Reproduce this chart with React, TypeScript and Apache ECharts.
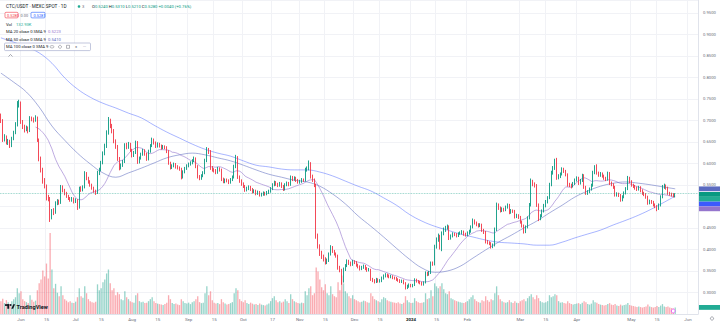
import React, { useEffect, useRef } from 'react';
import * as echarts from 'echarts';

// ---- axis span -------------------------------------------------------------
const AXIS_START_UTC = Date.UTC(2023, 4, 21); // first session on the time axis
const AXIS_DAYS = 383; // sessions plus right-hand margin of the time scale
const FIRST_OPEN = 0.712;

// ---- daily candles (open = previous close) ---------------------------------
const closes = [
  0.700, 0.656, 0.662, 0.648, 0.652, 0.641, 0.658, 0.672, 0.690, 0.738,
  0.741, 0.697, 0.685, 0.679, 0.683, 0.676, 0.705, 0.703, 0.700, 0.707,
  0.655, 0.612, 0.585, 0.560, 0.548, 0.520, 0.519, 0.474, 0.490, 0.486,
  0.508, 0.512, 0.509, 0.545, 0.538, 0.530, 0.524, 0.519, 0.515, 0.518,
  0.511, 0.515, 0.497, 0.542, 0.538, 0.545, 0.577, 0.566, 0.558, 0.550,
  0.543, 0.536, 0.531, 0.578, 0.585, 0.601, 0.623, 0.640, 0.671, 0.699,
  0.688, 0.676, 0.652, 0.640, 0.612, 0.590, 0.596, 0.604, 0.642, 0.638,
  0.645, 0.631, 0.618, 0.625, 0.649, 0.604, 0.612, 0.621, 0.630, 0.622,
  0.610, 0.628, 0.641, 0.655, 0.648, 0.640, 0.645, 0.641, 0.636, 0.639,
  0.637, 0.628, 0.601, 0.590, 0.594, 0.598, 0.592, 0.590, 0.587, 0.568,
  0.580, 0.588, 0.594, 0.598, 0.601, 0.606, 0.611, 0.593, 0.569, 0.566,
  0.571, 0.578, 0.606, 0.632, 0.628, 0.590, 0.585, 0.583, 0.579, 0.588,
  0.585, 0.563, 0.558, 0.561, 0.560, 0.556, 0.562, 0.568, 0.592, 0.614,
  0.569, 0.560, 0.552, 0.547, 0.538, 0.542, 0.545, 0.540, 0.534, 0.536,
  0.530, 0.533, 0.527, 0.528, 0.531, 0.529, 0.532, 0.535, 0.541, 0.550,
  0.556, 0.552, 0.549, 0.553, 0.547, 0.540, 0.550, 0.554, 0.551, 0.568,
  0.563, 0.566, 0.561, 0.557, 0.558, 0.562, 0.561, 0.585, 0.588, 0.600,
  0.570, 0.562, 0.550, 0.432, 0.408, 0.392, 0.383, 0.378, 0.370, 0.374,
  0.389, 0.405, 0.396, 0.390, 0.385, 0.358, 0.352, 0.326, 0.354, 0.362,
  0.372, 0.368, 0.365, 0.372, 0.370, 0.364, 0.360, 0.355, 0.358, 0.361,
  0.356, 0.352, 0.353, 0.331, 0.328, 0.325, 0.330, 0.326, 0.327, 0.333,
  0.338, 0.341, 0.339, 0.336, 0.337, 0.334, 0.333, 0.330, 0.328, 0.325,
  0.327, 0.322, 0.311, 0.314, 0.318, 0.315, 0.317, 0.329, 0.326, 0.324,
  0.322, 0.319, 0.323, 0.345, 0.342, 0.346, 0.368, 0.366, 0.406, 0.422,
  0.431, 0.405, 0.438, 0.446, 0.450, 0.453, 0.427, 0.431, 0.436, 0.435,
  0.432, 0.437, 0.438, 0.441, 0.436, 0.434, 0.438, 0.442, 0.452, 0.467,
  0.462, 0.458, 0.455, 0.457, 0.445, 0.440, 0.418, 0.416, 0.414, 0.406,
  0.410, 0.446, 0.503, 0.497, 0.490, 0.494, 0.492, 0.498, 0.503, 0.486,
  0.490, 0.489, 0.476, 0.479, 0.475, 0.464, 0.455, 0.441, 0.452, 0.473,
  0.503, 0.557, 0.552, 0.549, 0.504, 0.472, 0.478, 0.489, 0.502, 0.511,
  0.520, 0.550, 0.578, 0.589, 0.605, 0.567, 0.570, 0.575, 0.586, 0.582,
  0.574, 0.551, 0.549, 0.547, 0.553, 0.561, 0.566, 0.554, 0.560, 0.572,
  0.545, 0.531, 0.534, 0.540, 0.549, 0.578, 0.590, 0.578, 0.573, 0.576,
  0.571, 0.566, 0.563, 0.577, 0.554, 0.551, 0.545, 0.527, 0.529, 0.526,
  0.515, 0.522, 0.531, 0.541, 0.566, 0.558, 0.550, 0.547, 0.543, 0.540,
  0.544, 0.537, 0.531, 0.528, 0.522, 0.508, 0.512, 0.510, 0.504, 0.500,
  0.495, 0.503, 0.522, 0.545, 0.548, 0.543, 0.531, 0.529, 0.527, 0.524, 0.528,
];

const highs = [
  0.716, 0.703, 0.668, 0.665, 0.657, 0.655, 0.662, 0.676, 0.696, 0.745,
  0.748, 0.744, 0.701, 0.690, 0.688, 0.686, 0.710, 0.709, 0.707, 0.712,
  0.709, 0.658, 0.616, 0.590, 0.566, 0.551, 0.527, 0.522, 0.494, 0.496,
  0.512, 0.517, 0.516, 0.550, 0.549, 0.541, 0.534, 0.527, 0.522, 0.522,
  0.521, 0.519, 0.517, 0.546, 0.547, 0.549, 0.582, 0.580, 0.569, 0.561,
  0.553, 0.546, 0.539, 0.583, 0.590, 0.606, 0.628, 0.646, 0.677, 0.708,
  0.704, 0.692, 0.680, 0.656, 0.643, 0.615, 0.600, 0.608, 0.647, 0.648,
  0.650, 0.648, 0.634, 0.629, 0.653, 0.652, 0.616, 0.625, 0.634, 0.633,
  0.625, 0.632, 0.645, 0.660, 0.658, 0.651, 0.649, 0.648, 0.644, 0.643,
  0.642, 0.640, 0.631, 0.604, 0.598, 0.602, 0.601, 0.596, 0.593, 0.590,
  0.584, 0.592, 0.598, 0.602, 0.605, 0.610, 0.616, 0.614, 0.596, 0.573,
  0.575, 0.582, 0.611, 0.638, 0.636, 0.631, 0.594, 0.589, 0.587, 0.592,
  0.591, 0.588, 0.567, 0.565, 0.565, 0.563, 0.566, 0.572, 0.597, 0.620,
  0.617, 0.572, 0.563, 0.556, 0.550, 0.546, 0.549, 0.548, 0.543, 0.540,
  0.539, 0.537, 0.536, 0.532, 0.535, 0.534, 0.536, 0.539, 0.545, 0.554,
  0.560, 0.559, 0.555, 0.557, 0.556, 0.550, 0.554, 0.558, 0.557, 0.572,
  0.571, 0.570, 0.569, 0.564, 0.562, 0.566, 0.565, 0.590, 0.593, 0.607,
  0.603, 0.574, 0.565, 0.553, 0.437, 0.412, 0.397, 0.388, 0.382, 0.379,
  0.393, 0.410, 0.408, 0.399, 0.393, 0.388, 0.362, 0.355, 0.358, 0.366,
  0.377, 0.376, 0.372, 0.376, 0.375, 0.373, 0.367, 0.363, 0.362, 0.365,
  0.364, 0.359, 0.357, 0.355, 0.334, 0.331, 0.334, 0.333, 0.331, 0.337,
  0.342, 0.345, 0.344, 0.342, 0.341, 0.340, 0.337, 0.336, 0.333, 0.331,
  0.330, 0.330, 0.324, 0.318, 0.321, 0.320, 0.320, 0.333, 0.332, 0.329,
  0.327, 0.325, 0.326, 0.349, 0.348, 0.350, 0.372, 0.372, 0.411, 0.428,
  0.437, 0.434, 0.442, 0.451, 0.455, 0.458, 0.456, 0.435, 0.440, 0.439,
  0.438, 0.440, 0.442, 0.445, 0.444, 0.439, 0.442, 0.446, 0.456, 0.472,
  0.470, 0.465, 0.461, 0.461, 0.460, 0.448, 0.443, 0.422, 0.419, 0.417,
  0.414, 0.451, 0.509, 0.507, 0.500, 0.498, 0.497, 0.502, 0.507, 0.506,
  0.494, 0.493, 0.492, 0.483, 0.482, 0.478, 0.467, 0.458, 0.456, 0.477,
  0.508, 0.565, 0.562, 0.556, 0.552, 0.507, 0.482, 0.493, 0.506, 0.515,
  0.524, 0.555, 0.583, 0.594, 0.611, 0.613, 0.575, 0.579, 0.591, 0.590,
  0.585, 0.577, 0.555, 0.553, 0.557, 0.565, 0.570, 0.569, 0.564, 0.576,
  0.575, 0.548, 0.538, 0.544, 0.553, 0.583, 0.596, 0.598, 0.581, 0.580,
  0.579, 0.574, 0.569, 0.581, 0.580, 0.558, 0.554, 0.548, 0.533, 0.532,
  0.529, 0.526, 0.535, 0.545, 0.571, 0.569, 0.561, 0.553, 0.550, 0.546,
  0.548, 0.547, 0.540, 0.534, 0.531, 0.525, 0.516, 0.515, 0.513, 0.507,
  0.503, 0.507, 0.526, 0.550, 0.553, 0.551, 0.546, 0.534, 0.532, 0.531, 0.531,
];

const lows = [
  0.694, 0.650, 0.651, 0.644, 0.643, 0.636, 0.638, 0.654, 0.668, 0.686,
  0.730, 0.692, 0.680, 0.672, 0.675, 0.670, 0.673, 0.698, 0.695, 0.697,
  0.650, 0.605, 0.579, 0.553, 0.542, 0.514, 0.512, 0.464, 0.470, 0.480,
  0.483, 0.503, 0.504, 0.506, 0.533, 0.526, 0.520, 0.515, 0.511, 0.511,
  0.507, 0.508, 0.492, 0.495, 0.534, 0.535, 0.542, 0.561, 0.553, 0.546,
  0.539, 0.532, 0.527, 0.529, 0.573, 0.582, 0.598, 0.619, 0.636, 0.667,
  0.682, 0.670, 0.647, 0.634, 0.606, 0.584, 0.586, 0.592, 0.601, 0.633,
  0.634, 0.627, 0.614, 0.615, 0.622, 0.599, 0.600, 0.609, 0.618, 0.618,
  0.606, 0.607, 0.625, 0.638, 0.644, 0.636, 0.637, 0.637, 0.632, 0.633,
  0.633, 0.624, 0.597, 0.586, 0.587, 0.591, 0.588, 0.586, 0.583, 0.563,
  0.565, 0.577, 0.585, 0.591, 0.595, 0.598, 0.603, 0.589, 0.565, 0.561,
  0.562, 0.568, 0.575, 0.603, 0.622, 0.585, 0.581, 0.579, 0.575, 0.576,
  0.581, 0.559, 0.554, 0.554, 0.556, 0.552, 0.553, 0.559, 0.565, 0.589,
  0.564, 0.555, 0.548, 0.543, 0.534, 0.535, 0.538, 0.536, 0.530, 0.531,
  0.526, 0.527, 0.523, 0.523, 0.525, 0.525, 0.526, 0.529, 0.532, 0.538,
  0.547, 0.548, 0.545, 0.546, 0.543, 0.536, 0.537, 0.547, 0.547, 0.548,
  0.559, 0.560, 0.557, 0.553, 0.553, 0.555, 0.557, 0.558, 0.581, 0.584,
  0.565, 0.557, 0.545, 0.425, 0.402, 0.385, 0.378, 0.372, 0.365, 0.366,
  0.371, 0.386, 0.392, 0.386, 0.381, 0.353, 0.347, 0.318, 0.323, 0.350,
  0.359, 0.364, 0.361, 0.362, 0.366, 0.360, 0.356, 0.351, 0.352, 0.355,
  0.352, 0.348, 0.349, 0.327, 0.324, 0.321, 0.322, 0.323, 0.323, 0.324,
  0.330, 0.335, 0.335, 0.333, 0.333, 0.331, 0.330, 0.327, 0.325, 0.322,
  0.322, 0.319, 0.307, 0.308, 0.311, 0.312, 0.312, 0.315, 0.323, 0.321,
  0.319, 0.316, 0.316, 0.321, 0.338, 0.339, 0.343, 0.362, 0.363, 0.402,
  0.418, 0.400, 0.396, 0.433, 0.441, 0.446, 0.422, 0.423, 0.428, 0.431,
  0.428, 0.429, 0.434, 0.435, 0.432, 0.430, 0.431, 0.435, 0.439, 0.449,
  0.458, 0.454, 0.451, 0.452, 0.441, 0.436, 0.414, 0.412, 0.410, 0.402,
  0.403, 0.407, 0.443, 0.492, 0.486, 0.487, 0.488, 0.489, 0.495, 0.482,
  0.483, 0.485, 0.472, 0.473, 0.471, 0.460, 0.451, 0.437, 0.438, 0.449,
  0.470, 0.500, 0.547, 0.544, 0.499, 0.466, 0.468, 0.475, 0.486, 0.498,
  0.507, 0.517, 0.547, 0.574, 0.585, 0.562, 0.563, 0.566, 0.572, 0.578,
  0.570, 0.546, 0.545, 0.542, 0.544, 0.550, 0.558, 0.550, 0.551, 0.557,
  0.541, 0.527, 0.527, 0.531, 0.537, 0.546, 0.575, 0.574, 0.569, 0.569,
  0.567, 0.562, 0.559, 0.560, 0.550, 0.547, 0.541, 0.523, 0.523, 0.522,
  0.511, 0.512, 0.519, 0.528, 0.538, 0.554, 0.546, 0.543, 0.539, 0.536,
  0.537, 0.533, 0.527, 0.524, 0.518, 0.504, 0.505, 0.506, 0.500, 0.496,
  0.489, 0.492, 0.500, 0.519, 0.541, 0.539, 0.527, 0.525, 0.523, 0.521, 0.521,
];

// daily volume, thousands of CTC
const volumes = [
  260, 310, 220, 280, 240, 200, 260, 300, 340, 520,
  420, 460, 300, 260, 240, 220, 380, 290, 250, 270,
  480, 620, 700, 880, 760, 1020, 720, 1640, 900, 520,
  610, 430, 360, 560, 380, 300, 270, 240, 260, 230,
  220, 250, 340, 520, 360, 330, 560, 420, 300, 260,
  240, 230, 250, 600, 480, 520, 640, 700, 820, 900,
  620, 480, 520, 380, 440, 400, 300, 280, 460, 340,
  300, 260, 240, 230, 380, 420, 260, 240, 250, 220,
  230, 260, 300, 340, 260, 220, 210, 200, 190, 180,
  200, 230, 380, 300, 220, 200, 210, 190, 180, 300,
  260, 220, 210, 230, 200, 240, 260, 300, 360, 240,
  220, 230, 420, 560, 380, 460, 280, 230, 210, 220,
  200, 300, 240, 210, 190, 200, 220, 240, 420, 520,
  480, 300, 260, 240, 280, 220, 200, 230, 210, 190,
  200, 180, 210, 190, 180, 170, 190, 210, 260, 320,
  360, 280, 240, 260, 230, 250, 300, 260, 220, 400,
  300, 260, 240, 220, 210, 230, 220, 460, 380, 520,
  560, 380, 420, 940, 860, 700, 540, 480, 600, 420,
  380, 560, 400, 360, 340, 640, 480, 780, 620, 460,
  420, 360, 320, 380, 300, 280, 260, 240, 250, 270,
  260, 240, 230, 420, 360, 300, 280, 260, 240, 300,
  340, 320, 280, 260, 250, 240, 230, 220, 240, 210,
  200, 230, 360, 280, 240, 220, 230, 320, 260, 240,
  220, 230, 240, 420, 300, 320, 480, 360, 620, 560,
  520, 560, 620, 500, 420, 400, 460, 320, 300, 280,
  260, 250, 240, 230, 220, 240, 260, 300, 340, 380,
  300, 260, 240, 230, 280, 260, 360, 280, 250, 300,
  280, 420, 560, 380, 300, 260, 240, 230, 240, 280,
  240, 220, 260, 230, 220, 260, 280, 300, 260, 320,
  360, 400, 340, 300, 380, 320, 260, 240, 230, 240,
  260, 380, 340, 360, 400, 380, 260, 230, 240, 220,
  210, 260, 220, 200, 190, 200, 210, 220, 200, 230,
  260, 240, 200, 190, 210, 280, 240, 230, 200, 190,
  180, 170, 180, 200, 220, 190, 180, 200, 170, 160,
  190, 170, 180, 190, 220, 180, 170, 160, 150, 140,
  150, 140, 130, 140, 150, 190, 150, 140, 130, 140,
  160, 140, 170, 200, 150, 140, 150, 130, 120, 110, 132.93,
];

// ---- longer moving averages, one reading every MA_STEP sessions ------------
const MA_STEP = 7;
const ma50Points = [
  0.810, 0.789, 0.766, 0.731, 0.687, 0.654, 0.624, 0.599, 0.578, 0.568,
  0.578, 0.589, 0.601, 0.613, 0.620, 0.624, 0.620, 0.613, 0.606, 0.596,
  0.585, 0.575, 0.568, 0.561, 0.557, 0.547, 0.529, 0.506, 0.478, 0.454,
  0.429, 0.403, 0.378, 0.357, 0.347, 0.350, 0.361, 0.380, 0.399, 0.417,
  0.433, 0.450, 0.466, 0.485, 0.503, 0.522, 0.536, 0.547, 0.554, 0.557,
  0.554, 0.550, 0.545, 0.541,
];
const ma100Points = [
  0.892, 0.882, 0.871, 0.857, 0.833, 0.799, 0.773, 0.754, 0.740, 0.729,
  0.717, 0.706, 0.689, 0.673, 0.659, 0.645, 0.633, 0.624, 0.617, 0.606,
  0.596, 0.592, 0.587, 0.585, 0.585, 0.580, 0.571, 0.559, 0.547, 0.536,
  0.520, 0.503, 0.482, 0.466, 0.454, 0.445, 0.436, 0.429, 0.422, 0.417,
  0.415, 0.413, 0.410, 0.410, 0.417, 0.427, 0.436, 0.445, 0.457, 0.468,
  0.480, 0.494, 0.510, 0.524,
];
const MA_SHORT_LEN = 20;

// ---- time scale labels -----------------------------------------------------
const tickDates = [
  '2023-06-01', '2023-06-15', '2023-07-01', '2023-07-15', '2023-08-01', '2023-08-15',
  '2023-09-01', '2023-09-15', '2023-10-01', '2023-10-17', '2023-11-01', '2023-11-15',
  '2023-12-01', '2023-12-15', '2024-01-01', '2024-01-15', '2024-02-01', '2024-03-01',
  '2024-03-15', '2024-04-01', '2024-05-01', '2024-05-15', '2024-06-01',
];
const tickTexts = [
  'Jun', '15', 'Jul', '15', 'Aug', '15', 'Sep', '15', 'Oct', '17', 'Nov', '15',
  'Dec', '15', '2024', '15', 'Feb', 'Mar', '15', 'Apr', 'May', '15', 'Jun',
];

// ---- styling ---------------------------------------------------------------
const FONT = 'Roboto, "Noto Sans", "DejaVu Sans", sans-serif';
const UP = '#089981';
const DOWN = '#f23645';
const UP_VOL = 'rgba(8,153,129,0.42)';
const DOWN_VOL = 'rgba(242,54,69,0.42)';
const MA20_COLOR = '#9575cd';
const MA50_COLOR = '#5c6bc0';
const MA100_COLOR = '#3d5afe';
const TEXT = '#131722';
const AXIS_TEXT = '#6a6d78';
const GRID_LINE = '#f1f2f6';

const dates: string[] = [];
for (let i = 0; i < AXIS_DAYS; i++) {
  dates.push(new Date(AXIS_START_UTC + i * 86400000).toISOString().slice(0, 10));
}
const tickMap = new Map<string, string>();
tickDates.forEach((d, i) => tickMap.set(d, tickTexts[i]));
const isTick = (_i: number, v: string) => tickMap.has(v);

const opens = closes.map((_, i) => (i === 0 ? FIRST_OPEN : closes[i - 1]));
const candles = closes.map((c, i) => {
  const o = opens[i];
  return [o, c, Math.min(lows[i], o, c), Math.max(highs[i], o, c)];
});
const lastIdx = closes.length - 1;

const ma20 = closes.map((_, i) => {
  if (i < MA_SHORT_LEN - 1) return '-';
  let s = 0;
  for (let k = i - MA_SHORT_LEN + 1; k <= i; k++) s += closes[k];
  return +(s / MA_SHORT_LEN).toFixed(5);
});
const sampleIdx = (k: number) => Math.min(k * MA_STEP, lastIdx);
const ma50Data = ma50Points.map((v, k) => [dates[sampleIdx(k)], v]);
const ma100Data = ma100Points.map((v, k) => [dates[sampleIdx(k)], v]);

const volData = volumes.map((v, i) => ({
  value: v,
  itemStyle: { color: closes[i] >= opens[i] ? UP_VOL : DOWN_VOL },
}));

function buildOption(): any {
  return {
    animation: false,
    backgroundColor: '#ffffff',
    textStyle: { fontFamily: FONT },
    grid: [
      { left: 0, right: 22, top: 0, height: 314 },
      { left: 0, right: 22, top: 225, height: 89 },
    ],
    xAxis: [
      {
        type: 'category',
        gridIndex: 0,
        data: dates,
        boundaryGap: true,
        axisLine: { show: true, lineStyle: { color: '#e0e3eb', width: 1 } },
        axisTick: { show: false },
        axisLabel: {
          interval: isTick,
          formatter: (v: string) => {
            const t = tickMap.get(v) || '';
            return /^\d{4}$/.test(t) ? `{y|${t}}` : t;
          },
          rich: { y: { fontWeight: 'bold', fontSize: 4.4, color: TEXT, fontFamily: FONT } },
          fontSize: 4.4,
          color: AXIS_TEXT,
          margin: 3,
          fontFamily: FONT,
        },
        splitLine: { show: true, interval: isTick, lineStyle: { color: GRID_LINE, width: 1 } },
      },
      { type: 'category', gridIndex: 1, data: dates, boundaryGap: true, show: false },
    ],
    yAxis: [
      {
        type: 'value',
        gridIndex: 0,
        position: 'right',
        min: 0.25,
        max: 0.98,
        interval: 0.05,
        axisLine: { show: true, lineStyle: { color: '#e0e3eb', width: 1 } },
        axisTick: { show: false },
        axisLabel: {
          showMinLabel: false,
          showMaxLabel: false,
          formatter: (v: number) => v.toFixed(4),
          fontSize: 4.2,
          color: AXIS_TEXT,
          margin: 5,
          fontFamily: FONT,
        },
        splitLine: { show: true, lineStyle: { color: GRID_LINE, width: 1 } },
      },
      { type: 'value', gridIndex: 1, min: 0, max: 1800, show: false, splitLine: { show: false } },
    ],
    series: [
      {
        name: 'Vol',
        type: 'bar',
        xAxisIndex: 1,
        yAxisIndex: 1,
        data: volData,
        barWidth: '72%',
        z: 1,
        silent: true,
      },
      {
        name: 'CTC/USDT',
        type: 'candlestick',
        xAxisIndex: 0,
        yAxisIndex: 0,
        data: candles,
        barWidth: '62%',
        z: 4,
        itemStyle: {
          color: UP,
          color0: DOWN,
          borderColor: UP,
          borderColor0: DOWN,
          borderWidth: 0.9,
        },
        markLine: {
          silent: true,
          symbol: ['none', 'none'],
          label: { show: false },
          lineStyle: { color: UP, type: 'dotted', width: 0.8, opacity: 0.55 },
          data: [{ yAxis: closes[lastIdx] }],
        },
      },
      {
        name: 'MA 20',
        type: 'line',
        data: ma20,
        showSymbol: false,
        z: 3,
        lineStyle: { color: MA20_COLOR, width: 1, opacity: 0.6 },
        silent: true,
      },
      {
        name: 'MA 50',
        type: 'line',
        data: ma50Data,
        smooth: 0.4,
        showSymbol: false,
        z: 3,
        lineStyle: { color: MA50_COLOR, width: 1, opacity: 0.55 },
        silent: true,
      },
      {
        name: 'MA 100',
        type: 'line',
        data: ma100Data,
        smooth: 0.4,
        showSymbol: false,
        z: 3,
        lineStyle: { color: MA100_COLOR, width: 1, opacity: 0.45 },
        silent: true,
      },
    ],
  };
}

const txt = (x: number, y: number, text: string, fill: string, size = 4.4, extra: any = {}) => ({
  type: 'text',
  x,
  y,
  z: 50,
  silent: true,
  style: { text, fill, fontSize: size, fontFamily: FONT, verticalAlign: 'middle', align: 'left', ...extra },
});

function buildOverlay(chart: any): { els: any[]; badgeTop: number; badgeBottom: number } {
  const f4 = (v: number) => v.toFixed(4);
  const o = opens[lastIdx];
  const c = closes[lastIdx];
  const h = candles[lastIdx][3] as number;
  const l = candles[lastIdx][2] as number;
  const chg = c - o;
  const pct = (chg / o) * 100;
  const sign = chg >= 0 ? '+' : '−';
  const valColor = chg >= 0 ? UP : DOWN;
  const ma20Last = ma20[lastIdx] as number;
  const ma50Last = ma50Points[ma50Points.length - 1];
  const ma100Last = ma100Points[ma100Points.length - 1];

  const els: any[] = [];

  // symbol header
  els.push(txt(6, 6.5, 'CTC/USDT · MEXC SPOT · 1D', TEXT, 4.7));
  els.push({ type: 'circle', z: 50, silent: true, shape: { cx: 79, cy: 6.5, r: 1.3 }, style: { fill: '#22ab94' } });
  els.push(txt(82, 6.5, '3', AXIS_TEXT, 4.2));
  els.push({
    type: 'text', x: 92, y: 6.5, z: 50, silent: true,
    style: {
      text: `{k|O}{v|${f4(o)}} {k|H}{v|${f4(h)}} {k|L}{v|${f4(l)}} {k|C}{v|${f4(c)}} {v|${sign}${f4(Math.abs(chg))} (${sign}${Math.abs(pct).toFixed(2)}%)}`,
      fontSize: 4.2, fontFamily: FONT, verticalAlign: 'middle', align: 'left',
      rich: {
        k: { fill: TEXT, fontSize: 4.2, fontFamily: FONT },
        v: { fill: valColor, fontSize: 4.2, fontFamily: FONT },
      },
    },
  });

  // sell / buy buttons
  els.push({ type: 'rect', z: 50, silent: true, shape: { x: 5, y: 12.3, width: 13, height: 5.6, r: 1 }, style: { fill: '#fff', stroke: DOWN, lineWidth: 0.6 } });
  els.push(txt(7, 15.1, f4(c), DOWN, 3.9));
  els.push(txt(20.5, 15.1, '0.00', AXIS_TEXT, 3.9));
  els.push({ type: 'rect', z: 50, silent: true, shape: { x: 31, y: 12.3, width: 14, height: 5.6, r: 1 }, style: { fill: '#fff', stroke: '#2962ff', lineWidth: 0.6 } });
  els.push(txt(33.5, 15.1, f4(c + 0.0001), '#2962ff', 3.9));

  // indicator legend
  els.push(txt(6, 24, 'Vol', TEXT, 4.2));
  els.push(txt(16, 24, `${volumes[lastIdx].toFixed(2)}K`, '#22ab94', 4.2));
  els.push(txt(6, 31.7, 'MA 20 close 0 SMA 9', TEXT, 4.2));
  els.push(txt(48, 31.7, f4(ma20Last), MA20_COLOR, 4.2));
  els.push(txt(6, 39.2, 'MA 50 close 0 SMA 9', TEXT, 4.2));
  els.push(txt(48, 39.2, f4(ma50Last), MA50_COLOR, 4.2));
  els.push({ type: 'rect', z: 49, silent: true, shape: { x: 4.5, y: 43, width: 86, height: 7.6, r: 1 }, style: { fill: 'rgba(255,255,255,0.9)', stroke: '#9aa3c7', lineWidth: 0.6 } });
  els.push(txt(6, 46.8, 'MA 100 close 0 SMA 9', TEXT, 4.2));
  els.push({ type: 'ellipse', z: 50, silent: true, shape: { cx: 52, cy: 46.8, rx: 2, ry: 1.2 }, style: { fill: 'none', stroke: '#6a6d78', lineWidth: 0.5 } });
  els.push({ type: 'circle', z: 50, silent: true, shape: { cx: 60, cy: 46.8, r: 1.5 }, style: { fill: 'none', stroke: '#6a6d78', lineWidth: 0.5 } });
  els.push({ type: 'rect', z: 50, silent: true, shape: { x: 66.5, y: 45.3, width: 3, height: 3 }, style: { fill: 'none', stroke: '#6a6d78', lineWidth: 0.5 } });
  els.push(txt(75, 46.6, '×', '#6a6d78', 4.2));
  els.push(txt(83, 46.3, '···', '#6a6d78', 4));
  els.push({ type: 'polyline', z: 50, silent: true, shape: { points: [[8.5, 56.5], [10.5, 54.5], [12.5, 56.5]] }, style: { stroke: '#6a6d78', lineWidth: 0.6, fill: 'none' } });

  // logo
  els.push({ type: 'rect', z: 50, silent: true, shape: { x: 5, y: 304.2, width: 4.2, height: 1.7 }, style: { fill: TEXT } });
  els.push({ type: 'rect', z: 50, silent: true, shape: { x: 7.3, y: 304.2, width: 1.9, height: 4.6 }, style: { fill: TEXT } });
  els.push({ type: 'circle', z: 50, silent: true, shape: { cx: 10.6, cy: 305, r: 0.9 }, style: { fill: TEXT } });
  els.push({ type: 'polygon', z: 50, silent: true, shape: { points: [[11.3, 308.8], [13.3, 304.2], [15.1, 304.2], [13.1, 308.8]] }, style: { fill: TEXT } });
  els.push(txt(16.5, 306.6, 'TradingView', TEXT, 5.6, { fontWeight: 'bold' }));

  // price-scale badges (stacked so they never overlap)
  const yOf = (v: number) => chart.convertToPixel({ yAxisIndex: 0 }, v) as number;
  const BADGE_H = 4.8;
  const badges = [
    { v: ma50Last, lines: [f4(ma50Last)], colors: [MA50_COLOR] },
    { v: c, lines: [f4(c), '14:22:07'], colors: [UP, '#22ab94'] },
    { v: ma100Last, lines: [f4(ma100Last)], colors: [MA100_COLOR] },
    { v: ma20Last, lines: [f4(ma20Last)], colors: [MA20_COLOR] },
  ]
    .map((b) => ({ ...b, y: yOf(b.v) }))
    .sort((a, b) => a.y - b.y);
  let prevBottom = -Infinity;
  let badgeTop = Infinity;
  for (const b of badges) {
    let top = Math.max(b.y - BADGE_H / 2, prevBottom);
    badgeTop = Math.min(badgeTop, top);
    b.lines.forEach((line, li) => {
      els.push({ type: 'rect', z: 60, silent: true, shape: { x: 699, y: top, width: 21, height: BADGE_H }, style: { fill: b.colors[li] } });
      els.push(txt(701.5, top + BADGE_H / 2, line, '#ffffff', 3.8, { z: 61 }));
      top += BADGE_H;
    });
    prevBottom = top;
  }

  // volume badge on the price scale
  const vy = chart.convertToPixel({ yAxisIndex: 1 }, volumes[lastIdx]) as number;
  const vTop = Math.min(vy - BADGE_H / 2, 314 - BADGE_H);
  els.push({ type: 'rect', z: 60, silent: true, shape: { x: 699, y: vTop, width: 21, height: BADGE_H }, style: { fill: '#22ab94' } });
  els.push(txt(701.5, vTop + BADGE_H / 2, `${volumes[lastIdx].toFixed(2)}K`, '#ffffff', 3.8));

  // event marker under the last bar and the scale settings glyph
  const lx = chart.convertToPixel({ xAxisIndex: 0 }, dates[lastIdx]) as number;
  els.push({ type: 'circle', z: 60, silent: true, shape: { cx: lx - 2, cy: 311, r: 1.9 }, style: { fill: '#ffffff', stroke: '#e040fb', lineWidth: 0.7 } });
  els.push({ type: 'circle', z: 60, silent: true, shape: { cx: 712, cy: 318.5, r: 1.6 }, style: { fill: 'none', stroke: '#6a6d78', lineWidth: 0.6 } });

  return { els, badgeTop, badgeBottom: prevBottom };
}

export default function App() {
  const ref = useRef<HTMLDivElement>(null);
  useEffect(() => {
    const el = ref.current;
    if (!el) return;
    const chart = echarts.init(el, undefined, { renderer: 'svg' });
    chart.setOption(buildOption());
    const { els, badgeTop, badgeBottom } = buildOverlay(chart);
    // scale labels hidden behind the badges are not drawn
    const covered = (v: number) => {
      const y = chart.convertToPixel({ yAxisIndex: 0 }, v) as number;
      return y >= badgeTop && y <= badgeBottom;
    };
    chart.setOption({
      graphic: { elements: els },
      yAxis: [
        { axisLabel: { formatter: (v: number) => (covered(v) ? '' : v.toFixed(4)) } },
        {},
      ],
    });
    return () => chart.dispose();
  }, []);
  return (
    <div
      ref={ref}
      style={{ position: 'fixed', left: 0, top: 0, width: 720, height: 324, background: '#ffffff' }}
    />
  );
}
